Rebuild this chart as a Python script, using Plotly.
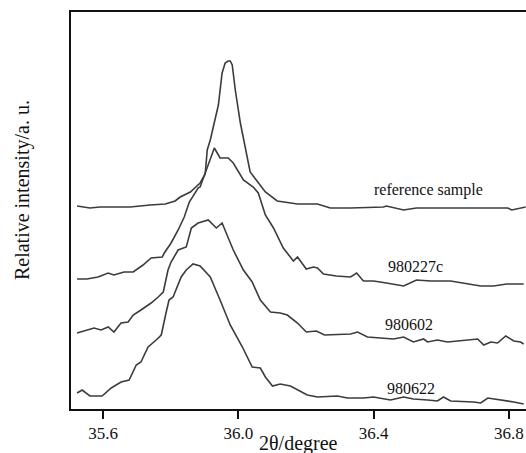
import plotly.graph_objects as go

# 2theta (degree) and relative intensity (a.u.)
ref_x = [35.523, 35.561, 35.591, 35.621, 35.680, 35.739, 35.784, 35.813, 35.828, 35.858,
         35.887, 35.902, 35.908, 35.917, 35.932, 35.941, 35.952, 35.961, 35.970, 35.976,
         35.982, 35.991, 36.006, 36.021, 36.035, 36.053, 36.080, 36.115, 36.175, 36.234,
         36.272, 36.332, 36.429, 36.438, 36.489, 36.527, 36.667, 36.797, 36.809, 36.850]
ref_y = [203, 201, 202, 202, 202, 204, 205, 208, 212, 217,
         226, 235, 259, 269, 292, 304, 336, 346, 348, 348,
         344, 319, 286, 259, 237, 229, 217, 208, 205, 205,
         201, 201, 202, 203, 199, 201, 201, 201, 199, 202]

s227_x = [35.523, 35.552, 35.585, 35.615, 35.632, 35.662, 35.689, 35.718, 35.742, 35.775,
          35.781, 35.801, 35.822, 35.840, 35.855, 35.881, 35.887, 35.908, 35.929, 35.946,
          35.970, 35.985, 36.015, 36.044, 36.059, 36.080, 36.104, 36.133, 36.163, 36.175,
          36.201, 36.222, 36.234, 36.252, 36.290, 36.332, 36.350, 36.370, 36.400, 36.438,
          36.489, 36.527, 36.569, 36.628, 36.667, 36.717, 36.755, 36.794, 36.844]
s227_y = [130, 130, 132, 136, 134, 137, 137, 144, 151, 152,
          156, 166, 179, 192, 207, 221, 222, 242, 261, 251,
          251, 246, 229, 222, 216, 194, 181, 161, 148, 152,
          140, 142, 141, 135, 133, 132, 136, 128, 128, 126,
          123, 129, 128, 128, 126, 123, 123, 125, 125]

s602_x = [35.523, 35.549, 35.573, 35.594, 35.615, 35.632, 35.653, 35.674, 35.689, 35.712,
          35.742, 35.763, 35.778, 35.792, 35.801, 35.822, 35.846, 35.861, 35.881, 35.911,
          35.935, 35.952, 35.961, 35.985, 36.015, 36.041, 36.065, 36.095, 36.124, 36.145,
          36.175, 36.201, 36.231, 36.255, 36.332, 36.353, 36.382, 36.421, 36.459, 36.489,
          36.518, 36.548, 36.560, 36.589, 36.619, 36.708, 36.726, 36.747, 36.767, 36.791,
          36.815, 36.835, 36.844]
s602_y = [76, 79, 81, 79, 82, 77, 86, 87, 94, 99,
          106, 112, 117, 139, 147, 159, 162, 181, 186, 189,
          181, 186, 179, 159, 139, 127, 109, 97, 96, 94,
          86, 77, 78, 74, 75, 77, 72, 71, 70, 72,
          67, 70, 67, 69, 67, 70, 64, 67, 66, 73,
          68, 67, 65]

s622_x = [35.523, 35.538, 35.561, 35.597, 35.624, 35.653, 35.677, 35.698, 35.712, 35.733,
          35.757, 35.772, 35.786, 35.795, 35.807, 35.831, 35.846, 35.866, 35.887, 35.917,
          35.946, 35.976, 36.012, 36.041, 36.065, 36.080, 36.101, 36.124, 36.154, 36.204,
          36.234, 36.293, 36.323, 36.370, 36.400, 36.450, 36.489, 36.518, 36.560, 36.589,
          36.607, 36.628, 36.696, 36.717, 36.738, 36.785, 36.815, 36.844]
s622_y = [16, 19, 13, 13, 21, 27, 29, 44, 47, 62,
          69, 74, 96, 109, 112, 132, 139, 145, 143, 132,
          109, 84, 62, 42, 41, 32, 23, 25, 23, 14,
          12, 13, 11, 11, 12, 9, 12, 10, 9, 8,
          12, 8, 7, 6, 11, 9, 7, 5]

names = ["reference sample", "980227c", "980602", "980622"]
label_x = [36.563, 36.524, 36.506, 36.511]
label_y = [219, 143, 85, 21]

serif = "Liberation Serif"

fig = go.Figure()
for xs, ys, nm in [(ref_x, ref_y, names[0]), (s227_x, s227_y, names[1]),
                   (s602_x, s602_y, names[2]), (s622_x, s622_y, names[3])]:
    fig.add_trace(go.Scatter(x=xs, y=ys, mode="lines", name=nm,
                             line=dict(color="#3c3c3c", width=1.6)))

for nm, lx, ly in zip(names, label_x, label_y):
    fig.add_annotation(x=lx, y=ly, text=nm, showarrow=False,
                       font=dict(family=serif, size=16, color="#111"))

# axis titles
fig.add_annotation(x=0.5, y=-0.087, xref="paper", yref="paper", text="2θ/degree",
                   showarrow=False, yanchor="middle",
                   font=dict(family=serif, size=20, color="#111"))
fig.add_annotation(x=-0.105, y=0.552, xref="paper", yref="paper",
                   text="Relative intensity/a. u.", textangle=-90, showarrow=False,
                   xanchor="center", yanchor="middle",
                   font=dict(family=serif, size=20, color="#111"))

fig.update_xaxes(range=[35.505, 36.851], tickvals=[35.6, 36.0, 36.4, 36.8],
                 ticktext=["35.6", "36.0", "36.4", "36.8"],
                 ticks="outside", ticklen=8, tickwidth=1.5, tickcolor="#111",
                 showline=True, linecolor="#111", linewidth=2, mirror=True,
                 showgrid=False, zeroline=False,
                 tickfont=dict(family=serif, size=17, color="#111"))
fig.update_yaxes(range=[0, 397], showticklabels=False, ticks="",
                 showline=True, linecolor="#111", linewidth=2, mirror=False,
                 showgrid=False, zeroline=False)

fig.update_layout(width=526, height=453, showlegend=False,
                  margin=dict(l=71, r=0, t=12, b=44),
                  plot_bgcolor="white", paper_bgcolor="white")

# drop the default 8px page margin so the figure fills the window exactly
fig.write_html("out.html", config={"displayModeBar": False},
               post_script="document.body.style.margin='0';")
